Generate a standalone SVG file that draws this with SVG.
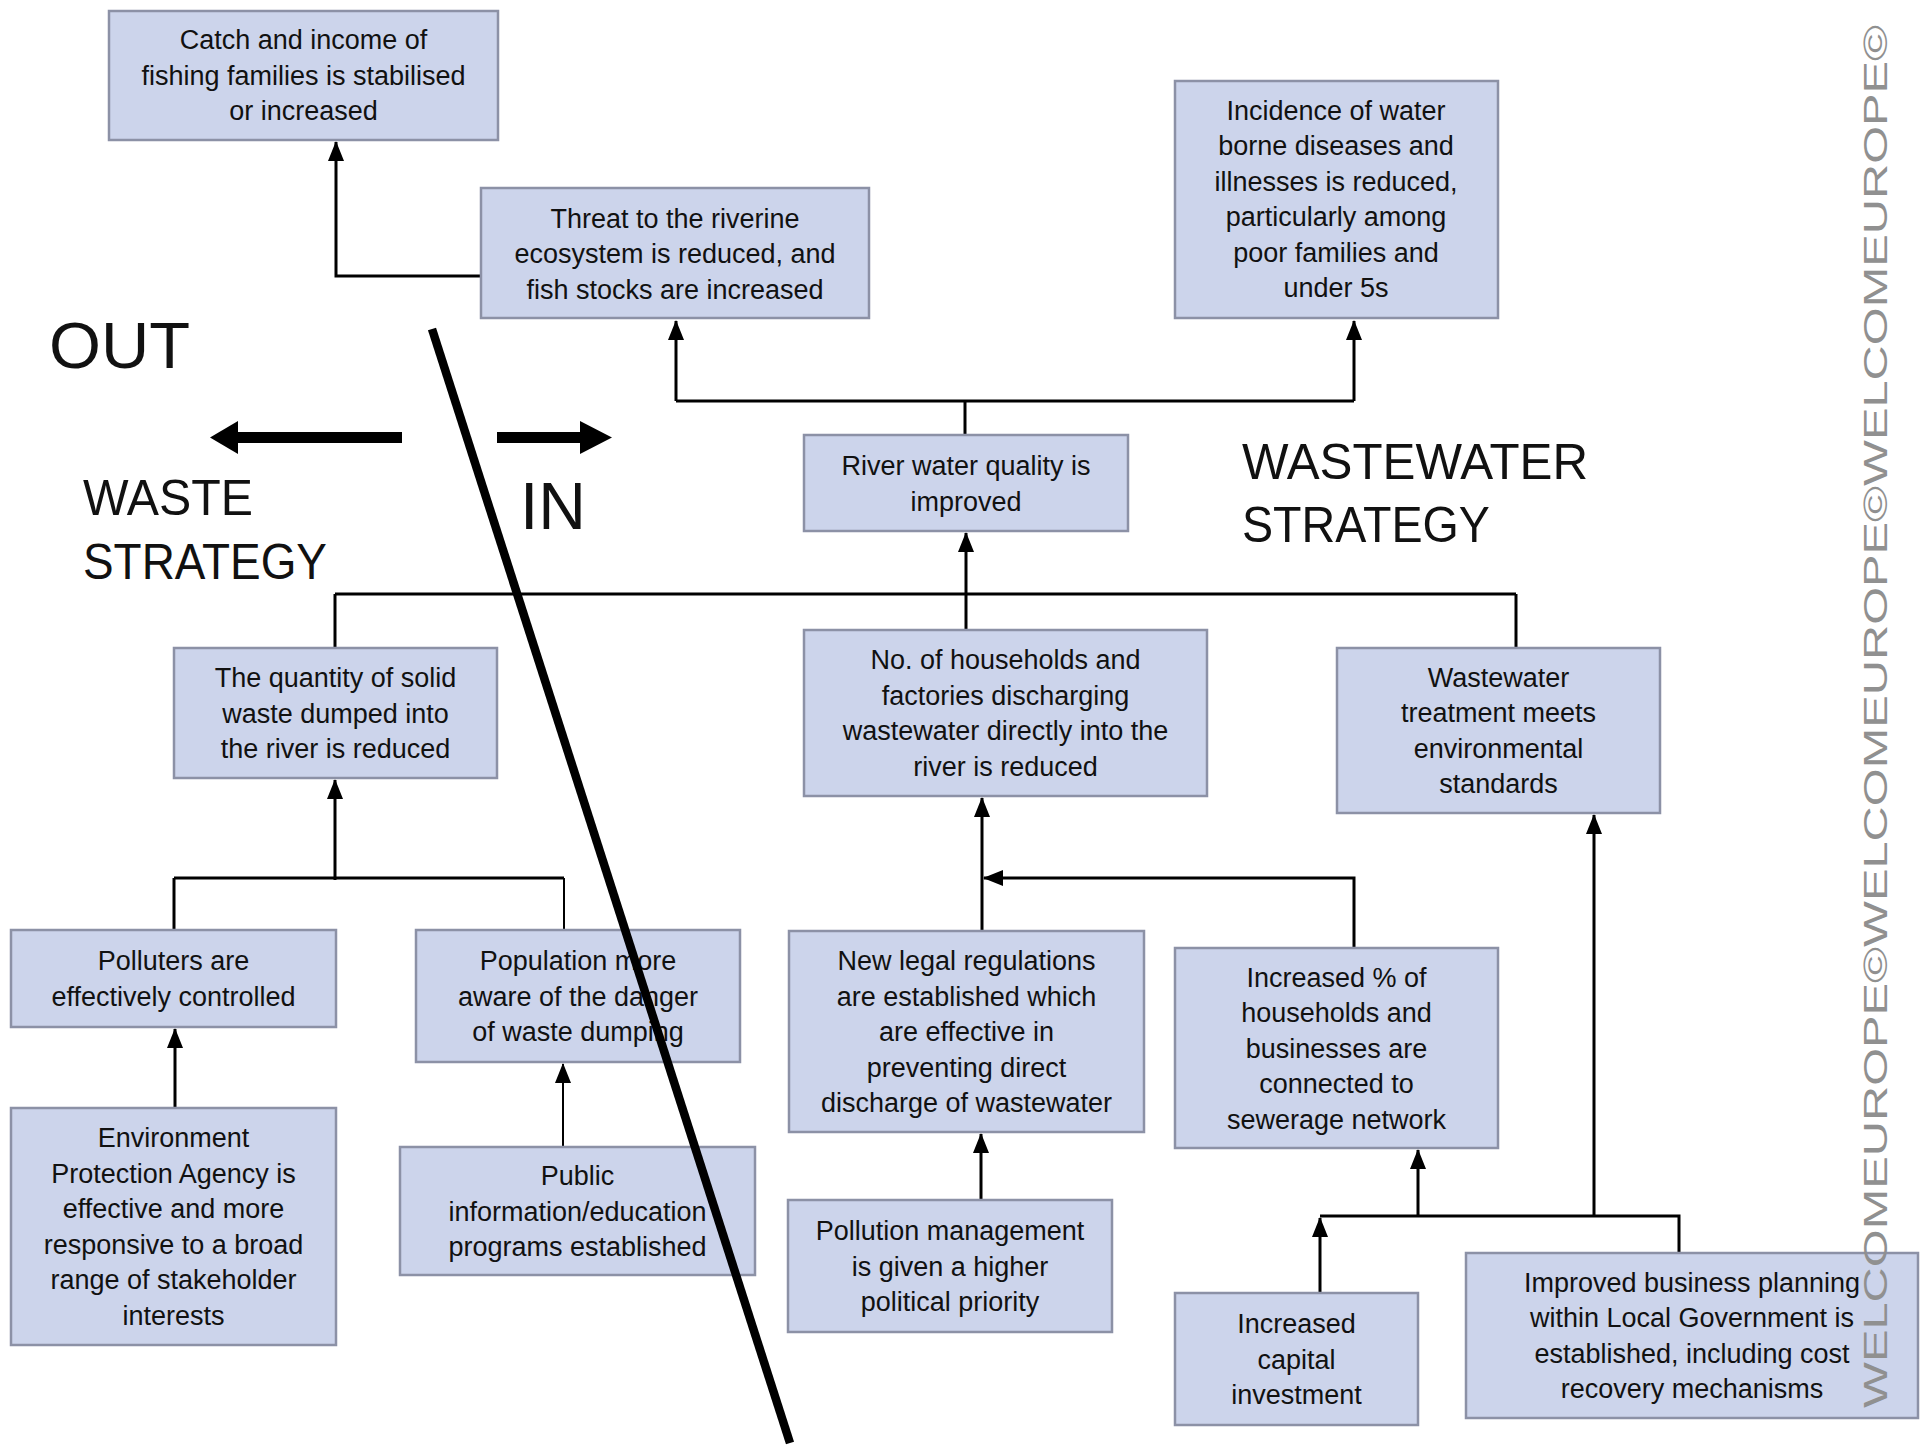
<svg xmlns="http://www.w3.org/2000/svg" width="1922" height="1447" viewBox="0 0 1922 1447">
<defs>
<style>
.box{fill:#ccd4eb;stroke:#8c91a6;stroke-width:2.5}
.t{font-family:"Liberation Sans",Arial,sans-serif;font-size:27px;fill:#111;text-anchor:middle}
.h{font-family:"Liberation Sans",Arial,sans-serif;fill:#111}
.c{fill:none;stroke:#000;stroke-width:3}
.thin{fill:none;stroke:#000;stroke-width:2}
.wm{font-family:"Liberation Sans",Arial,sans-serif;font-size:33px;fill:#909090}
</style>
<marker id="ah" markerUnits="userSpaceOnUse" markerWidth="20" markerHeight="16" refX="19" refY="8" orient="auto">
<path d="M0,0 L20,8 L0,16 z" fill="#000"/>
</marker>
</defs>
<rect width="1922" height="1447" fill="#fff"/>

<g id="connectors">
<path class="c" d="M482,276 H336 V142" marker-end="url(#ah)"/>
<path class="c" d="M965,435 V401"/>
<path class="c" d="M676,401 H1354"/>
<path class="c" d="M676,401 V321" marker-end="url(#ah)"/>
<path class="c" d="M1354,401 V321" marker-end="url(#ah)"/>
<path class="c" d="M335,594 H1516" stroke-width="3.5"/>
<path class="c" d="M966,594 V533" marker-end="url(#ah)"/>
<path class="c" d="M335,594 V648"/>
<path class="c" d="M966,594 V630"/>
<path class="c" d="M1516,594 V648"/>
<path class="c" d="M335,880 V780" marker-end="url(#ah)"/>
<path class="c" d="M174,878 H564"/>
<path class="c" d="M174,878 V930"/>
<path class="thin" d="M564,878 V930"/>
<path class="c" d="M175,1108 V1029" marker-end="url(#ah)"/>
<path class="thin" d="M563,1147 V1064" marker-end="url(#ah)"/>
<path class="c" d="M982,931 V798" marker-end="url(#ah)"/>
<path class="c" d="M1354,948 V878 H984" marker-end="url(#ah)"/>
<path class="c" d="M981,1200 V1134" marker-end="url(#ah)"/>
<path class="c" d="M1320,1293 V1218" marker-end="url(#ah)"/>
<path class="c" d="M1320,1216 H1679 V1253" stroke-width="3.5"/>
<path class="c" d="M1418,1216 V1150" marker-end="url(#ah)"/>
<path class="c" d="M1594,1216 V815" marker-end="url(#ah)"/>
</g>

<g id="nA"><rect class="box" x="109" y="11" width="389" height="129"/>
<text class="t" x="303.5" y="49">Catch and income of</text>
<text class="t" x="303.5" y="84.5">fishing families is stabilised</text>
<text class="t" x="303.5" y="120">or increased</text></g>

<g id="nB"><rect class="box" x="481" y="188" width="388" height="130"/>
<text class="t" x="675" y="227.5">Threat to the riverine</text>
<text class="t" x="675" y="263">ecosystem is reduced, and</text>
<text class="t" x="675" y="298.5">fish stocks are increased</text></g>

<g id="nC"><rect class="box" x="1175" y="81" width="323" height="237"/>
<text class="t" x="1336" y="119.75">Incidence of water</text>
<text class="t" x="1336" y="155.25">borne diseases and</text>
<text class="t" x="1336" y="190.75">illnesses is reduced,</text>
<text class="t" x="1336" y="226.25">particularly among</text>
<text class="t" x="1336" y="261.75">poor families and</text>
<text class="t" x="1336" y="297.25">under 5s</text></g>

<g id="nD"><rect class="box" x="804" y="435" width="324" height="96"/>
<text class="t" x="966" y="475">River water quality is</text>
<text class="t" x="966" y="510.5">improved</text></g>

<g id="nE"><rect class="box" x="174" y="648" width="323" height="130"/>
<text class="t" x="335.5" y="687">The quantity of solid</text>
<text class="t" x="335.5" y="722.5">waste dumped into</text>
<text class="t" x="335.5" y="758">the river is reduced</text></g>

<g id="nF"><rect class="box" x="804" y="630" width="403" height="166"/>
<text class="t" x="1005.5" y="669.25">No. of households and</text>
<text class="t" x="1005.5" y="704.75">factories discharging</text>
<text class="t" x="1005.5" y="740.25">wastewater directly into the</text>
<text class="t" x="1005.5" y="775.75">river is reduced</text></g>

<g id="nG"><rect class="box" x="1337" y="648" width="323" height="165"/>
<text class="t" x="1498.5" y="686.75">Wastewater</text>
<text class="t" x="1498.5" y="722.25">treatment meets</text>
<text class="t" x="1498.5" y="757.75">environmental</text>
<text class="t" x="1498.5" y="793.25">standards</text></g>

<g id="nH"><rect class="box" x="11" y="930" width="325" height="97"/>
<text class="t" x="173.5" y="970.25">Polluters are</text>
<text class="t" x="173.5" y="1005.75">effectively controlled</text></g>

<g id="nI"><rect class="box" x="416" y="930" width="324" height="132"/>
<text class="t" x="578" y="970">Population more</text>
<text class="t" x="578" y="1005.5">aware of the danger</text>
<text class="t" x="578" y="1041">of waste dumping</text></g>

<g id="nJ"><rect class="box" x="789" y="931" width="355" height="201"/>
<text class="t" x="966.5" y="970">New legal regulations</text>
<text class="t" x="966.5" y="1005.5">are established which</text>
<text class="t" x="966.5" y="1041">are effective in</text>
<text class="t" x="966.5" y="1076.5">preventing direct</text>
<text class="t" x="966.5" y="1112">discharge of wastewater</text></g>

<g id="nK"><rect class="box" x="1175" y="948" width="323" height="200"/>
<text class="t" x="1336.5" y="986.5">Increased % of</text>
<text class="t" x="1336.5" y="1022">households and</text>
<text class="t" x="1336.5" y="1057.5">businesses are</text>
<text class="t" x="1336.5" y="1093">connected to</text>
<text class="t" x="1336.5" y="1128.5">sewerage network</text></g>

<g id="nL"><rect class="box" x="11" y="1108" width="325" height="237"/>
<text class="t" x="173.5" y="1147.25">Environment</text>
<text class="t" x="173.5" y="1182.75">Protection Agency is</text>
<text class="t" x="173.5" y="1218.25">effective and more</text>
<text class="t" x="173.5" y="1253.75">responsive to a broad</text>
<text class="t" x="173.5" y="1289.25">range of stakeholder</text>
<text class="t" x="173.5" y="1324.75">interests</text></g>

<g id="nM"><rect class="box" x="400" y="1147" width="355" height="128"/>
<text class="t" x="577.5" y="1185">Public</text>
<text class="t" x="577.5" y="1220.5">information/education</text>
<text class="t" x="577.5" y="1256">programs established</text></g>

<g id="nN"><rect class="box" x="788" y="1200" width="324" height="132"/>
<text class="t" x="950" y="1240">Pollution management</text>
<text class="t" x="950" y="1275.5">is given a higher</text>
<text class="t" x="950" y="1311">political priority</text></g>

<g id="nO"><rect class="box" x="1175" y="1293" width="243" height="132"/>
<text class="t" x="1296.5" y="1333">Increased</text>
<text class="t" x="1296.5" y="1368.5">capital</text>
<text class="t" x="1296.5" y="1404">investment</text></g>

<g id="nP"><rect class="box" x="1466" y="1253" width="452" height="165"/>
<text class="t" x="1692" y="1291.75">Improved business planning</text>
<text class="t" x="1692" y="1327.25">within Local Government is</text>
<text class="t" x="1692" y="1362.75">established, including cost</text>
<text class="t" x="1692" y="1398.25">recovery mechanisms</text></g>

<g id="labels">
<text class="h" x="49" y="368" font-size="64" textLength="141" lengthAdjust="spacingAndGlyphs">OUT</text>
<text class="h" x="520" y="529" font-size="67" textLength="66" lengthAdjust="spacingAndGlyphs">IN</text>
<text class="h" x="83" y="515" font-size="50" textLength="170" lengthAdjust="spacingAndGlyphs">WASTE</text>
<text class="h" x="83" y="579" font-size="50" textLength="244" lengthAdjust="spacingAndGlyphs">STRATEGY</text>
<text class="h" x="1242" y="479" font-size="50" textLength="346" lengthAdjust="spacingAndGlyphs">WASTEWATER</text>
<text class="h" x="1242" y="542" font-size="50" textLength="248" lengthAdjust="spacingAndGlyphs">STRATEGY</text>
</g>

<g id="inout">
<rect x="237" y="432" width="165" height="11" fill="#000"/>
<path d="M210,437.5 L238,421 L238,454 z" fill="#000"/>
<rect x="497" y="432" width="84" height="11" fill="#000"/>
<path d="M612,437.5 L580,421 L580,454 z" fill="#000"/>
<line x1="432" y1="329" x2="790" y2="1443" stroke="#000" stroke-width="8.5"/>
</g>

<text class="wm" transform="translate(1887,1408) rotate(-90)" textLength="1383" lengthAdjust="spacingAndGlyphs">WELCOMEUROPE©WELCOMEUROPE©WELCOMEUROPE©</text>
</svg>
